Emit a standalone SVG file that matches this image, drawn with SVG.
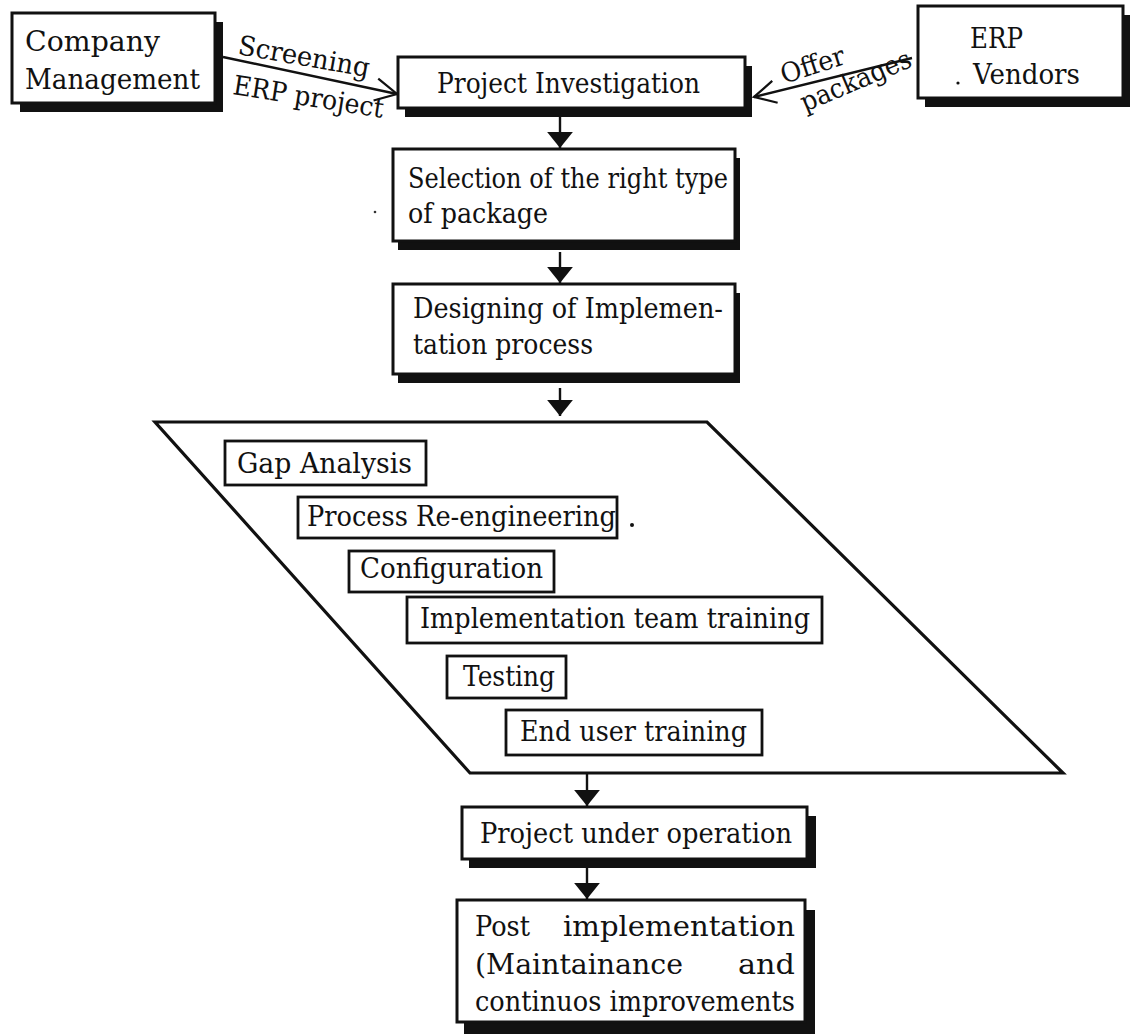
<svg xmlns="http://www.w3.org/2000/svg" width="1134" height="1034" viewBox="0 0 1134 1034">
  <style>
    text { font-family: "DejaVu Serif", "Liberation Serif", serif; font-size: 27px; fill: #111; }
    .box { fill: #fff; stroke: #111; stroke-width: 3; }
    .shadow { fill: #111; }
    .inner { fill: #fff; stroke: #111; stroke-width: 2.8; }
    .frame { fill: #fff; stroke: #111; stroke-width: 3.2; stroke-linejoin: miter; }
    .link { stroke: #111; stroke-width: 2.4; fill: none; }
  </style>
  <defs>
    <marker id="solid" markerUnits="userSpaceOnUse" markerWidth="30" markerHeight="30" viewBox="-16 -14 18 28" refX="0" refY="0" orient="auto">
      <path d="M0,0 L-15,-12 L-15,12 Z" fill="#111"/>
    </marker>
    <marker id="open" markerUnits="userSpaceOnUse" markerWidth="30" markerHeight="30" viewBox="-26 -16 28 32" refX="0" refY="0" orient="auto">
      <path d="M-23,-12 L0,0 L-23,12" fill="none" stroke="#111" stroke-width="2.4"/>
    </marker>
  </defs>
  <rect width="1134" height="1034" fill="#fff"/>

  <!-- implementation phase frame -->
  <g id="phase-frame">
    <path class="frame" d="M155,422 L707,422 L1063,773 L470,773 Z"/>
  </g>

  <!-- connectors -->
  <g id="connectors">
    <line class="link" x1="223" y1="57" x2="397" y2="94" marker-end="url(#open)"/>
    <line class="link" x1="912" y1="58" x2="754" y2="97" marker-end="url(#open)"/>
    <line class="link" x1="560" y1="117" x2="560" y2="148" marker-end="url(#solid)"/>
    <line class="link" x1="560" y1="252" x2="560" y2="283" marker-end="url(#solid)"/>
    <line class="link" x1="560" y1="388" x2="560" y2="416" marker-end="url(#solid)"/>
    <line class="link" x1="587" y1="773" x2="587" y2="806" marker-end="url(#solid)"/>
    <line class="link" x1="587" y1="868" x2="587" y2="899" marker-end="url(#solid)"/>
    <text transform="translate(237,54) rotate(10)" textLength="133" lengthAdjust="spacingAndGlyphs">Screening</text>
    <text transform="translate(232,94) rotate(9)" textLength="152" lengthAdjust="spacingAndGlyphs">ERP project</text>
    <text transform="translate(784,84) rotate(-18)" textLength="66" lengthAdjust="spacingAndGlyphs">Offer</text>
    <text transform="translate(805,112) rotate(-23)" textLength="118" lengthAdjust="spacingAndGlyphs">packages</text>
  </g>

  <g id="company-management">
    <rect class="shadow" x="20" y="22" width="203" height="90"/>
    <rect class="box" x="12" y="13" width="203" height="90"/>
    <text x="25" y="51" textLength="135" lengthAdjust="spacingAndGlyphs">Company</text>
    <text x="25" y="89" textLength="175" lengthAdjust="spacingAndGlyphs">Management</text>
  </g>

  <g id="project-investigation">
    <rect class="shadow" x="405" y="66" width="347" height="51"/>
    <rect class="box" x="398" y="57" width="347" height="51"/>
    <text x="437" y="93" textLength="263" lengthAdjust="spacingAndGlyphs">Project Investigation</text>
  </g>

  <g id="erp-vendors">
    <rect class="shadow" x="925" y="15" width="205" height="92"/>
    <rect class="box" x="918" y="6" width="205" height="92"/>
    <text x="970" y="48" textLength="53" lengthAdjust="spacingAndGlyphs">ERP</text>
    <circle cx="958" cy="83" r="1.6" fill="#111"/>
    <text x="973" y="84" textLength="107" lengthAdjust="spacingAndGlyphs">Vendors</text>
  </g>

  <g id="package-selection">
    <rect class="shadow" x="398" y="158" width="342" height="92"/>
    <rect class="box" x="393" y="149" width="342" height="92"/>
    <text x="408" y="188" textLength="320" lengthAdjust="spacingAndGlyphs">Selection of the right type</text>
    <text x="408" y="223" textLength="140" lengthAdjust="spacingAndGlyphs">of package</text>
    <circle cx="375" cy="212" r="1.3" fill="#333"/>
  </g>

  <g id="implementation-design">
    <rect class="shadow" x="398" y="293" width="342" height="90"/>
    <rect class="box" x="393" y="284" width="342" height="90"/>
    <text x="413" y="318" textLength="310" lengthAdjust="spacingAndGlyphs">Designing of Implemen-</text>
    <text x="413" y="354" textLength="180" lengthAdjust="spacingAndGlyphs">tation process</text>
  </g>

  <g id="gap-analysis">
    <rect class="inner" x="225" y="441" width="201" height="44"/>
    <text x="237" y="473" textLength="175" lengthAdjust="spacingAndGlyphs">Gap Analysis</text>
  </g>

  <g id="process-reengineering">
    <rect class="inner" x="298" y="497" width="319" height="41"/>
    <text x="307" y="526" textLength="309" lengthAdjust="spacingAndGlyphs">Process Re-engineering</text>
    <circle cx="632" cy="525" r="2" fill="#111"/>
  </g>

  <g id="configuration">
    <rect class="inner" x="349" y="551" width="205" height="41"/>
    <text x="360" y="578" textLength="183" lengthAdjust="spacingAndGlyphs">Configuration</text>
  </g>

  <g id="team-training">
    <rect class="inner" x="407" y="597" width="415" height="46"/>
    <text x="420" y="628" textLength="390" lengthAdjust="spacingAndGlyphs">Implementation team training</text>
  </g>

  <g id="testing">
    <rect class="inner" x="447" y="656" width="119" height="42"/>
    <text x="463" y="686" textLength="92" lengthAdjust="spacingAndGlyphs">Testing</text>
  </g>

  <g id="end-user-training">
    <rect class="inner" x="506" y="710" width="256" height="45"/>
    <text x="520" y="741" textLength="227" lengthAdjust="spacingAndGlyphs">End user training</text>
  </g>

  <g id="project-operation">
    <rect class="shadow" x="469" y="816" width="347" height="52"/>
    <rect class="box" x="462" y="807" width="345" height="52"/>
    <text x="480" y="843" textLength="312" lengthAdjust="spacingAndGlyphs">Project under operation</text>
  </g>

  <g id="post-implementation">
    <rect class="shadow" x="464" y="910" width="351" height="124"/>
    <rect class="box" x="457" y="900" width="348" height="122"/>
    <text x="475" y="936" textLength="55" lengthAdjust="spacingAndGlyphs">Post</text>
    <text x="563" y="936" textLength="232" lengthAdjust="spacingAndGlyphs">implementation</text>
    <text x="475" y="974" textLength="208" lengthAdjust="spacingAndGlyphs">(Maintainance</text>
    <text x="738" y="974" textLength="57" lengthAdjust="spacingAndGlyphs">and</text>
    <text x="475" y="1011" textLength="320" lengthAdjust="spacingAndGlyphs">continuos improvements</text>
  </g>
</svg>
